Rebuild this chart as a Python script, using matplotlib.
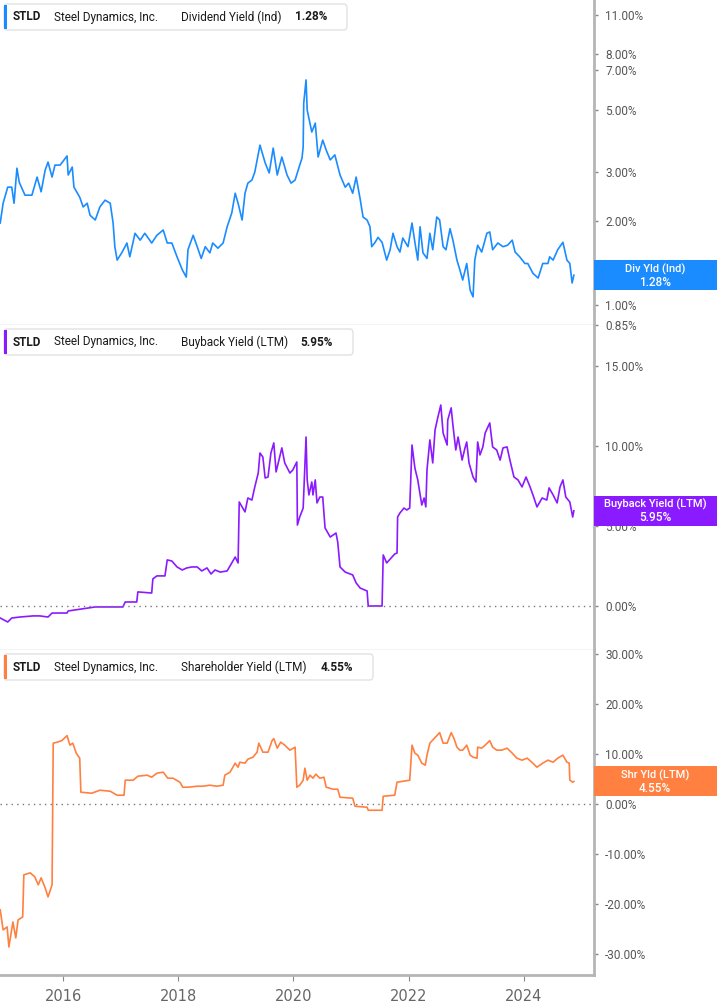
import matplotlib
matplotlib.use('Agg')
import matplotlib.pyplot as plt
from matplotlib.patches import Rectangle, FancyBboxPatch
from matplotlib.ticker import FixedLocator, NullLocator, FuncFormatter

W, H = 717, 1005

# --- data (decimal year, percent) ---
div_t = [2014.91, 2014.96, 2015.04, 2015.11, 2015.15, 2015.20, 2015.24, 2015.34, 2015.46, 2015.55,
         2015.62, 2015.69, 2015.74, 2015.81, 2015.86, 2015.95, 2016.07, 2016.09, 2016.16, 2016.19,
         2016.29, 2016.35, 2016.42, 2016.47, 2016.56, 2016.64, 2016.73, 2016.82, 2016.87, 2016.90,
         2016.94, 2017.02, 2017.11, 2017.16, 2017.25, 2017.34, 2017.42, 2017.54, 2017.63, 2017.74,
         2017.81, 2017.89, 2017.98, 2018.07, 2018.14, 2018.17, 2018.26, 2018.33, 2018.40, 2018.47,
         2018.55, 2018.60, 2018.69, 2018.78, 2018.85, 2018.93, 2018.99, 2019.04, 2019.11, 2019.16,
         2019.21, 2019.28, 2019.33, 2019.37, 2019.42, 2019.51, 2019.58, 2019.65, 2019.72, 2019.80,
         2019.89, 2019.96, 2020.03, 2020.10, 2020.15, 2020.17, 2020.18, 2020.22, 2020.24, 2020.32,
         2020.38, 2020.43, 2020.51, 2020.57, 2020.64, 2020.72, 2020.81, 2020.90, 2020.96, 2021.03,
         2021.09, 2021.16, 2021.21, 2021.28, 2021.33, 2021.36, 2021.42, 2021.47, 2021.54, 2021.62,
         2021.68, 2021.73, 2021.80, 2021.85, 2021.90, 2021.99, 2022.06, 2022.11, 2022.16, 2022.20,
         2022.25, 2022.32, 2022.37, 2022.42, 2022.49, 2022.54, 2022.60, 2022.65, 2022.72, 2022.77,
         2022.84, 2022.89, 2022.94, 2023.01, 2023.07, 2023.12, 2023.15, 2023.20, 2023.27, 2023.36,
         2023.41, 2023.46, 2023.55, 2023.64, 2023.72, 2023.80, 2023.85, 2023.93, 2024.02, 2024.07,
         2024.16, 2024.25, 2024.33, 2024.42, 2024.45, 2024.51, 2024.59, 2024.68, 2024.75, 2024.80,
         2024.84, 2024.87]
div_v = [1.97, 2.32, 2.65, 2.65, 2.32, 3.10, 2.76, 2.48, 2.48, 2.88,
         2.55, 3.05, 3.26, 2.88, 3.18, 3.18, 3.43, 2.93, 3.13, 2.65,
         2.44, 2.25, 2.32, 2.10, 2.02, 2.25, 2.38, 2.32, 1.97, 1.62,
         1.45, 1.54, 1.67, 1.49, 1.81, 1.71, 1.81, 1.67, 1.78, 1.86,
         1.67, 1.67, 1.49, 1.34, 1.26, 1.58, 1.78, 1.62, 1.47, 1.62,
         1.54, 1.67, 1.60, 1.67, 1.91, 2.14, 2.52, 2.32, 2.02, 2.52,
         2.74, 2.81, 3.00, 3.32, 3.75, 3.24, 2.98, 3.66, 2.93, 3.40,
         2.93, 2.74, 2.81, 3.13, 3.37, 3.69, 5.31, 6.43, 5.01, 4.18,
         4.50, 3.40, 3.91, 3.60, 3.32, 3.46, 2.93, 2.65, 2.74, 2.52,
         2.88, 2.40, 2.07, 2.02, 1.91, 1.62, 1.68, 1.75, 1.68, 1.45,
         1.58, 1.81, 1.62, 1.55, 1.74, 1.62, 1.97, 1.68, 1.45, 1.91,
         1.54, 1.47, 1.81, 1.58, 2.07, 2.02, 1.62, 1.58, 1.88, 1.71,
         1.45, 1.34, 1.23, 1.41, 1.13, 1.07, 1.45, 1.64, 1.55, 1.81,
         1.83, 1.58, 1.67, 1.62, 1.64, 1.71, 1.55, 1.49, 1.41, 1.41,
         1.30, 1.25, 1.41, 1.41, 1.49, 1.45, 1.58, 1.68, 1.45, 1.41,
         1.20, 1.28]

buy_t = [2014.91, 2015.04, 2015.11, 2015.25, 2015.48, 2015.60, 2015.74, 2015.81, 2016.07, 2016.09,
         2016.56, 2017.04, 2017.08, 2017.28, 2017.30, 2017.54, 2017.56, 2017.63, 2017.77, 2017.81,
         2017.89, 2017.98, 2018.07, 2018.15, 2018.24, 2018.33, 2018.41, 2018.50, 2018.57, 2018.64,
         2018.73, 2018.85, 2018.93, 2018.99, 2019.04, 2019.06, 2019.11, 2019.16, 2019.21, 2019.28,
         2019.33, 2019.39, 2019.42, 2019.47, 2019.51, 2019.56, 2019.61, 2019.66, 2019.70, 2019.75,
         2019.80, 2019.85, 2019.94, 2019.99, 2020.06, 2020.07, 2020.11, 2020.17, 2020.20, 2020.22,
         2020.24, 2020.27, 2020.32, 2020.34, 2020.38, 2020.41, 2020.46, 2020.51, 2020.55, 2020.64,
         2020.74, 2020.77, 2020.81, 2020.90, 2021.03, 2021.09, 2021.16, 2021.28, 2021.30, 2021.54,
         2021.56, 2021.62, 2021.76, 2021.80, 2021.81, 2021.85, 2021.92, 2021.97, 2022.02, 2022.06,
         2022.11, 2022.16, 2022.23, 2022.27, 2022.30, 2022.32, 2022.37, 2022.42, 2022.46, 2022.51,
         2022.56, 2022.60, 2022.67, 2022.68, 2022.74, 2022.77, 2022.82, 2022.86, 2022.93, 2022.98,
         2023.01, 2023.05, 2023.12, 2023.17, 2023.20, 2023.24, 2023.29, 2023.33, 2023.41, 2023.46,
         2023.53, 2023.59, 2023.64, 2023.71, 2023.76, 2023.83, 2023.90, 2023.97, 2024.04, 2024.11,
         2024.16, 2024.23, 2024.32, 2024.40, 2024.44, 2024.51, 2024.58, 2024.63, 2024.68, 2024.73,
         2024.80, 2024.85, 2024.87]
buy_v = [-0.75, -1.00, -0.75, -0.69, -0.62, -0.62, -0.69, -0.44, -0.44, -0.31,
         -0.06, -0.06, 0.25, 0.25, 0.88, 0.81, 1.69, 1.88, 1.88, 2.88,
         2.81, 2.44, 2.25, 2.38, 2.44, 2.44, 2.19, 2.38, 2.00, 2.25,
         2.12, 2.19, 2.69, 3.06, 2.69, 6.50, 6.19, 5.88, 6.75, 6.62,
         7.44, 8.31, 9.56, 9.31, 8.00, 8.06, 9.56, 10.19, 8.38, 9.12,
         9.88, 8.94, 8.31, 8.50, 9.00, 5.06, 5.56, 6.12, 8.69, 10.56,
         7.88, 6.94, 7.75, 6.94, 7.88, 6.44, 6.81, 6.81, 4.88, 4.31,
         4.56, 4.00, 2.44, 2.12, 1.94, 1.44, 1.12, 0.94, 0.00, 0.00,
         3.19, 2.69, 3.25, 3.31, 5.56, 5.81, 6.12, 6.00, 6.12, 10.06,
         8.62, 7.88, 6.31, 6.75, 6.19, 8.50, 10.38, 8.94, 11.00, 11.81,
         12.56, 10.81, 10.06, 11.62, 12.38, 11.31, 9.75, 10.56, 9.12, 9.88,
         10.25, 8.94, 8.06, 7.75, 10.25, 9.44, 9.94, 10.81, 11.44, 9.94,
         9.75, 9.12, 9.88, 9.94, 9.12, 8.06, 7.88, 7.44, 8.06, 7.44,
         6.94, 6.19, 6.75, 6.62, 7.38, 6.94, 6.44, 7.44, 7.88, 6.81,
         6.50, 5.56, 5.95]

shr_t = [2014.91, 2014.96, 2015.03, 2015.06, 2015.13, 2015.18, 2015.22, 2015.30, 2015.32, 2015.43,
         2015.51, 2015.57, 2015.62, 2015.69, 2015.74, 2015.81, 2015.83, 2015.90, 2015.98, 2016.07,
         2016.12, 2016.17, 2016.23, 2016.29, 2016.31, 2016.50, 2016.64, 2016.82, 2016.94, 2017.06,
         2017.08, 2017.22, 2017.30, 2017.46, 2017.54, 2017.63, 2017.74, 2017.82, 2017.91, 2018.03,
         2018.08, 2018.17, 2018.33, 2018.43, 2018.55, 2018.67, 2018.78, 2018.81, 2018.90, 2018.99,
         2019.04, 2019.07, 2019.16, 2019.21, 2019.30, 2019.37, 2019.40, 2019.47, 2019.56, 2019.63,
         2019.66, 2019.72, 2019.78, 2019.85, 2019.94, 2020.03, 2020.06, 2020.11, 2020.17, 2020.20,
         2020.24, 2020.29, 2020.34, 2020.39, 2020.46, 2020.53, 2020.57, 2020.69, 2020.77, 2020.81,
         2021.03, 2021.07, 2021.28, 2021.30, 2021.54, 2021.56, 2021.76, 2021.80, 2022.02, 2022.06,
         2022.11, 2022.16, 2022.23, 2022.29, 2022.32, 2022.37, 2022.46, 2022.54, 2022.60, 2022.67,
         2022.74, 2022.79, 2022.84, 2022.89, 2022.94, 2023.01, 2023.07, 2023.12, 2023.19, 2023.20,
         2023.27, 2023.33, 2023.41, 2023.46, 2023.53, 2023.62, 2023.71, 2023.80, 2023.88, 2023.97,
         2024.06, 2024.14, 2024.23, 2024.33, 2024.42, 2024.51, 2024.59, 2024.68, 2024.75, 2024.79,
         2024.80, 2024.85, 2024.87]
shr_v = [-21.1, -25.1, -24.5, -28.5, -23.5, -26.7, -23.1, -22.5, -14.1, -13.7,
         -14.5, -16.1, -14.7, -16.7, -18.5, -16.1, 12.2, 12.4, 12.7, 13.7,
         11.8, 12.2, 10.2, 9.2, 2.4, 2.2, 2.8, 2.6, 1.8, 1.8,
         4.8, 4.8, 5.6, 5.8, 5.4, 6.2, 6.4, 5.2, 5.2, 4.4,
         3.4, 3.4, 3.6, 3.6, 3.8, 3.6, 3.8, 5.8, 6.4, 8.2,
         7.4, 8.4, 8.2, 9.0, 9.4, 10.4, 12.2, 10.4, 10.4, 12.7,
         13.1, 11.2, 12.4, 11.8, 10.8, 11.4, 3.4, 3.8, 4.8, 7.2,
         4.8, 5.8, 5.2, 6.0, 5.2, 5.4, 3.4, 3.0, 3.0, 1.4,
         1.2, -0.4, -0.6, -1.2, -1.2, 1.6, 1.8, 4.4, 4.8, 11.8,
         10.2, 9.8, 8.2, 7.8, 9.8, 12.2, 13.3, 14.3, 12.2, 12.2,
         14.3, 13.1, 11.4, 10.8, 10.8, 11.8, 9.8, 9.4, 9.2, 11.4,
         11.2, 11.8, 12.7, 11.4, 10.8, 10.8, 11.2, 10.2, 9.2, 8.8,
         9.2, 8.4, 7.4, 8.2, 8.8, 8.4, 9.2, 9.8, 8.4, 8.2,
         4.8, 4.4, 4.55]

series_names = ['Dividend Yield (Ind)', 'Buyback Yield (LTM)', 'Shareholder Yield (LTM)']
short_names = ['Div Yld (Ind)', 'Buyback Yield (LTM)', 'Shr Yld (LTM)']
colors = ['#1a8cff', '#8a1aff', '#ff8040']
div_ticks = [0.85, 1, 2, 3, 5, 7, 8, 11]
buy_ticks = [0, 5, 10, 15]
shr_ticks = [-30, -20, -10, 0, 10, 20, 30]
year_ticks = [2016, 2018, 2020, 2022, 2024]

plt.rcParams['font.family'] = ['Roboto', 'DejaVu Sans']
fig = plt.figure(figsize=(W / 100, H / 100), dpi=100)

def fx(x):
    return x / W

def fy(y):
    return 1 - y / H

panels = [(0, 325), (325, 650), (650, 975)]
axes = []
for top, bot in panels:
    ax = fig.add_axes([0, fy(bot), fx(594), (bot - top) / H])
    axes.append(ax)

data = [(div_t, div_v), (buy_t, buy_v), (shr_t, shr_v)]
ylims = [(0.848, 12.45), (-2.75, 17.56), (-34.1, 30.8)]
yticks = [div_ticks, buy_ticks, shr_ticks]

for i, ax in enumerate(axes):
    t, v = data[i]
    if i == 0:
        ax.set_yscale('log')
    ax.plot(t, v, color=colors[i], lw=1.2)
    if i > 0:
        ax.axhline(0, color='#777777', lw=1, ls=(0, (1, 3)))
    ax.set_xlim(2014.906, 2025.22)
    ax.set_ylim(*ylims[i])
    ax.yaxis.tick_right()
    ax.yaxis.set_major_locator(FixedLocator(yticks[i]))
    ax.yaxis.set_minor_locator(NullLocator())
    ax.yaxis.set_major_formatter(FuncFormatter(lambda val, pos: '%.2f%%' % val))
    ax.tick_params(axis='y', direction='out', length=3, width=1, color='#888888',
                   labelsize=8.5, labelcolor='#555555', pad=5)
    ax.xaxis.set_major_locator(FixedLocator(year_ticks))
    ax.xaxis.set_minor_locator(NullLocator())
    for s in ['left', 'top']:
        ax.spines[s].set_visible(False)
    ax.spines['right'].set_color('#b5b5b5')
    ax.spines['right'].set_linewidth(2)
    if i < 2:
        ax.spines['bottom'].set_color('#c8c8c8')
        ax.spines['bottom'].set_linewidth(1)
        ax.tick_params(axis='x', bottom=False, labelbottom=False)
    else:
        ax.spines['bottom'].set_color('#b5b5b5')
        ax.spines['bottom'].set_linewidth(2)
        ax.xaxis.set_major_formatter(FuncFormatter(lambda val, pos: '%d' % val))
        ax.tick_params(axis='x', direction='out', length=4, color='#888888', pad=6)
        for lab in ax.get_xticklabels():
            lab.set_family(['Liberation Sans Narrow', 'DejaVu Sans'])
            lab.set_fontsize(10.5)
            lab.set_color('#666666')

# legend boxes in the top left of each panel
box_right = [347, 353, 373]
value_x = [295, 300, 321]
for i, (top, bot) in enumerate(panels):
    y0 = top + 4
    y1 = top + 30
    box = FancyBboxPatch((fx(4), fy(y1)), fx(box_right[i] - 4), (y1 - y0) / H,
                         boxstyle='round,pad=0,rounding_size=0.004',
                         transform=fig.transFigure, facecolor='white',
                         edgecolor='#e2e2e2', lw=1, zorder=5)
    fig.patches.append(box)
    fig.patches.append(Rectangle((fx(4), fy(y1 - 1)), fx(3), (y1 - y0 - 2) / H,
                                 transform=fig.transFigure, facecolor=colors[i],
                                 edgecolor='none', zorder=6))
    yc = fy((y0 + y1) / 2)
    last = data[i][1][-1]
    fig.text(fx(13), yc, 'STLD', fontsize=8.5, fontweight='bold', color='#1a1a1a', va='center', zorder=7)
    fig.text(fx(54), yc, 'Steel Dynamics, Inc.', fontsize=8.5, color='#1a1a1a', va='center', zorder=7)
    fig.text(fx(181), yc, series_names[i], fontsize=8.5, color='#1a1a1a', va='center', zorder=7)
    fig.text(fx(value_x[i]), yc, '%.2f%%' % last, fontsize=8.5, fontweight='bold',
             color='#1a1a1a', va='center', zorder=7)

# value tags on the right axis
for i, ax in enumerate(axes):
    last = data[i][1][-1]
    ydisp = ax.transData.transform((2020, last))[1]
    yc_px = H - ydisp
    fig.patches.append(Rectangle((fx(594), fy(yc_px + 15)), fx(123), 30 / H,
                                 transform=fig.transFigure, facecolor=colors[i],
                                 edgecolor='none', zorder=6))
    fig.text(fx(655), fy(yc_px - 6), short_names[i], fontsize=8, color='white',
             ha='center', va='center', zorder=7, fontweight='medium')
    fig.text(fx(655), fy(yc_px + 7), '%.2f%%' % last, fontsize=8.5, color='white',
             ha='center', va='center', zorder=7, fontweight='medium')

fig.savefig('out.png', dpi=100, facecolor='white')
